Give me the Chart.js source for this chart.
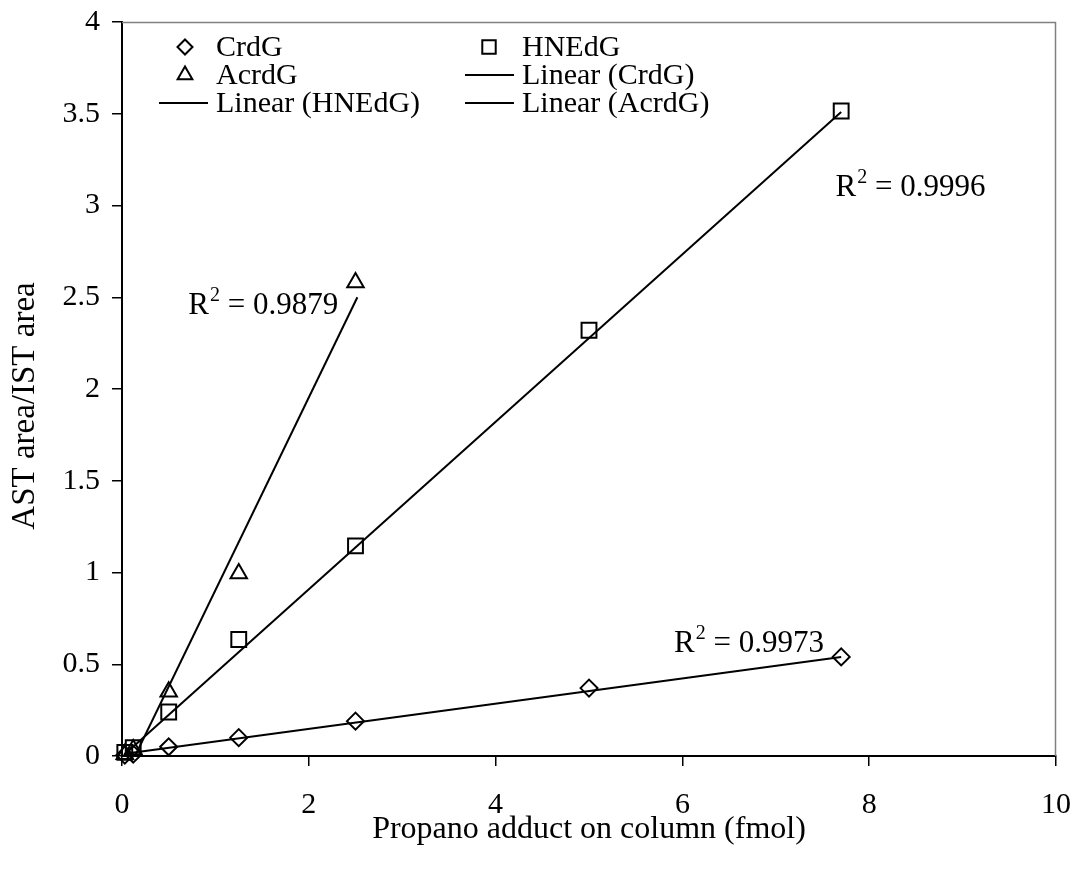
<!DOCTYPE html>
<html>
<head>
<meta charset="utf-8">
<script src="https://cdn.jsdelivr.net/npm/chart.js@4.4.1/dist/chart.umd.min.js"></script>
<style>
  html, body { margin: 0; padding: 0; background: #ffffff; }
  #wrap { width: 1078px; height: 875px; position: relative; }
</style>
</head>
<body>
<div id="wrap"><canvas id="c" width="1078" height="875"></canvas></div>
<script>
// ---- data ----
const crdgX  = [0.03, 0.12, 0.5, 1.25, 2.5, 5.0, 7.7];
const crdgY  = [0.005, 0.01, 0.05, 0.10, 0.19, 0.37, 0.54];
const hnedgX = [0.03, 0.12, 0.5, 1.25, 2.5, 5.0, 7.7];
const hnedgY = [0.02, 0.045, 0.24, 0.635, 1.145, 2.32, 3.515];
const acrdgX = [0.03, 0.12, 0.5, 1.25, 2.5];
const acrdgY = [0.01, 0.035, 0.35, 0.995, 2.58];

// trend line end points (as drawn in the reference)
const fitCrdgX  = [0.03, 7.7];
const fitCrdgY  = [0.012, 0.54];
const fitHnedgX = [0.03, 7.7];
const fitHnedgY = [0.01, 3.51];
const fitAcrdgX = [0.14, 2.52];
const fitAcrdgY = [0.0, 2.5];

const xTicks = [0, 2, 4, 6, 8, 10];
const yTicks = [0, 0.5, 1, 1.5, 2, 2.5, 3, 3.5, 4];

const r2Labels = ['0.9996', '0.9879', '0.9973'];
const r2AnchorX = [7.64, 0.71, 5.91];
const r2AnchorY = [3.05, 2.41, 0.565];

const seriesNames = ['CrdG', 'HNEdG', 'AcrdG', 'Linear (CrdG)', 'Linear (HNEdG)', 'Linear (AcrdG)'];
const xTitle = 'Propano adduct on column (fmol)';
const yTitle = 'AST area/IST area';

const zip = (xs, ys) => xs.map((x, i) => ({ x: x, y: ys[i] }));

const FONT = '"Liberation Serif", "Times New Roman", serif';

function markerSet(label, xs, ys, style, radius) {
  return {
    type: 'scatter', label: label, data: zip(xs, ys),
    pointStyle: style, pointRadius: radius, pointHoverRadius: radius,
    pointBorderWidth: 2, borderColor: '#000', backgroundColor: 'rgba(0,0,0,0)',
    showLine: false, clip: false, order: 1
  };
}
function fitSet(label, xs, ys) {
  return {
    type: 'line', label: label, data: zip(xs, ys),
    borderColor: '#000', borderWidth: 2, pointRadius: 0, showLine: true,
    fill: false, tension: 0, order: 2, isFit: true
  };
}

const datasets = [
  markerSet(seriesNames[0], crdgX, crdgY, 'rectRot', 8.5),
  markerSet(seriesNames[1], hnedgX, hnedgY, 'rect', 10.5),
  markerSet(seriesNames[2], acrdgX, acrdgY, 'triangle', 9.5),
  fitSet(seriesNames[3], fitCrdgX, fitCrdgY),
  fitSet(seriesNames[4], fitHnedgX, fitHnedgY),
  fitSet(seriesNames[5], fitAcrdgX, fitAcrdgY)
];

// frame (top & right border in grey)
const framePlugin = {
  id: 'frame',
  beforeDatasetsDraw(chart) {
    const a = chart.chartArea, ctx = chart.ctx;
    ctx.save();
    ctx.strokeStyle = '#808080';
    ctx.lineWidth = 1.5;
    ctx.beginPath();
    ctx.moveTo(a.left, a.top + 0.5);
    ctx.lineTo(a.right - 0.5, a.top + 0.5);
    ctx.lineTo(a.right - 0.5, a.bottom);
    ctx.stroke();
    ctx.restore();
  }
};

// y axis title (slightly below the plot centre, as in the reference)
const yTitlePlugin = {
  id: 'ytitle',
  afterDraw(chart) {
    const ctx = chart.ctx;
    ctx.save();
    ctx.translate(25, 406);
    ctx.rotate(-Math.PI / 2);
    ctx.fillStyle = '#000';
    ctx.font = '33px ' + FONT;
    ctx.textAlign = 'center';
    ctx.textBaseline = 'middle';
    ctx.fillText(yTitle, 0, 0);
    ctx.restore();
  }
};

// R² annotations
const r2Plugin = {
  id: 'r2',
  afterDatasetsDraw(chart) {
    const ctx = chart.ctx, xs = chart.scales.x, ys = chart.scales.y;
    ctx.save();
    ctx.fillStyle = '#000';
    ctx.textBaseline = 'alphabetic';
    ctx.textAlign = 'left';
    r2Labels.forEach((txt, i) => {
      let px = xs.getPixelForValue(r2AnchorX[i]);
      const py = ys.getPixelForValue(r2AnchorY[i]);
      ctx.font = '31px ' + FONT;
      ctx.fillText('R', px, py);
      px += ctx.measureText('R').width;
      ctx.font = '20px ' + FONT;
      ctx.fillText('2', px + 1, py - 13);
      px += ctx.measureText('2').width + 1;
      ctx.font = '31px ' + FONT;
      ctx.fillText(' = ' + txt, px, py);
    });
    ctx.restore();
  }
};

// legend in two columns, row-major order
const legendPlugin = {
  id: 'legend2col',
  afterDraw(chart) {
    const ctx = chart.ctx;
    const colMarkX = [185, 489];
    const colLineX = [[159, 208], [465, 514]];
    const colTextX = [216, 522];
    const rowY = [47, 75, 103];
    ctx.save();
    chart.data.datasets.forEach((ds, i) => {
      const col = i % 2, row = Math.floor(i / 2);
      const y = rowY[row];
      ctx.strokeStyle = '#000';
      ctx.fillStyle = 'rgba(0,0,0,0)';
      if (ds.isFit) {
        ctx.lineWidth = 2;
        ctx.beginPath();
        ctx.moveTo(colLineX[col][0], y);
        ctx.lineTo(colLineX[col][1], y);
        ctx.stroke();
      } else {
        ctx.lineWidth = 2;
        const r = ds.pointStyle === 'rect' ? 9.5 : (ds.pointStyle === 'triangle' ? 8.5 : 7.5);
        Chart.helpers.drawPoint(ctx, { pointStyle: ds.pointStyle, radius: r, rotation: 0, borderWidth: 2 }, colMarkX[col], y);
      }
      ctx.fillStyle = '#000';
      ctx.font = '30px ' + FONT;
      ctx.textBaseline = 'middle';
      ctx.textAlign = 'left';
      ctx.fillText(ds.label, colTextX[col], y + 1);
    });
    ctx.restore();
  }
};

const bgPlugin = {
  id: 'bg',
  beforeDraw(chart) {
    const ctx = chart.ctx;
    ctx.save();
    ctx.fillStyle = '#fff';
    ctx.fillRect(0, 0, chart.width, chart.height);
    ctx.restore();
  }
};

function noPad(s) {
  s.paddingLeft = 0; s.paddingRight = 0; s.paddingTop = 0; s.paddingBottom = 0;
}

new Chart(document.getElementById('c'), {
  type: 'scatter',
  data: { datasets: datasets },
  options: {
    responsive: false,
    animation: false,
    devicePixelRatio: 1,
    layout: { padding: { top: 22, right: 22, left: 0, bottom: 0 } },
    plugins: { legend: { display: false }, tooltip: { enabled: false } },
    scales: {
      x: {
        type: 'linear', min: 0, max: 10,
        afterBuildTicks(s) { s.ticks = xTicks.map(v => ({ value: v })); },
        afterFit(s) { s.height = 119; noPad(s); },
        border: { display: true, color: '#000', width: 2 },
        grid: { drawOnChartArea: false, drawTicks: true, tickLength: 10, color: '#000', lineWidth: 1.5 },
        ticks: { color: '#000', font: { family: FONT, size: 30 }, padding: 21, maxRotation: 0,
                 callback: (v) => String(v) },
        title: { display: true, text: xTitle, color: '#000',
                 font: { family: FONT, size: 32 }, padding: { top: 0, bottom: 26 } }
      },
      y: {
        type: 'linear', min: 0, max: 4,
        afterBuildTicks(s) { s.ticks = yTicks.map(v => ({ value: v })); },
        afterFit(s) { s.width = 122; noPad(s); },
        border: { display: true, color: '#000', width: 2 },
        grid: { drawOnChartArea: false, drawTicks: true, tickLength: 10, color: '#000', lineWidth: 1.5 },
        ticks: { color: '#000', font: { family: FONT, size: 30 }, padding: 12,
                 callback: (v) => String(v) },
        title: { display: false }
      }
    }
  },
  plugins: [bgPlugin, framePlugin, yTitlePlugin, r2Plugin, legendPlugin]
});
</script>
</body>
</html>
